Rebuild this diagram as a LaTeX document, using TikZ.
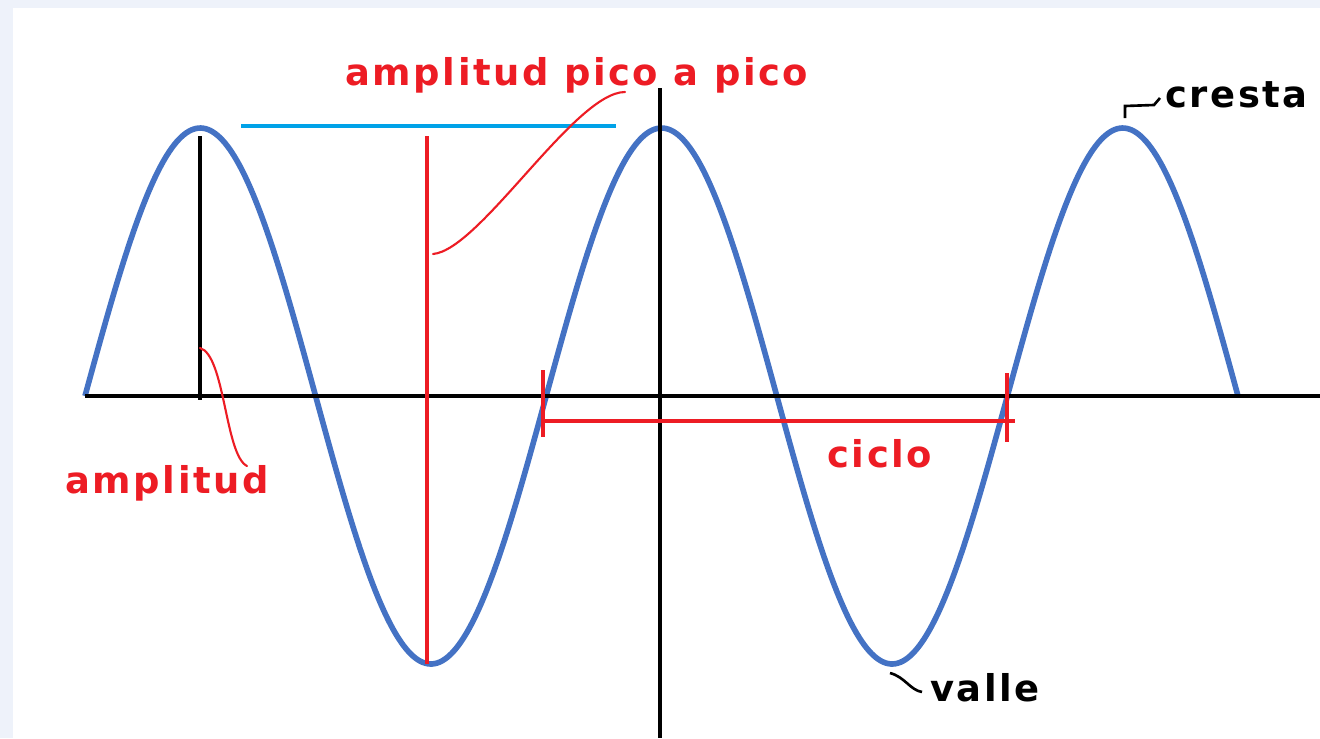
\documentclass[tikz,border=0pt]{standalone}
\usepackage{fontspec}
\newfontfamily\lblfont{DejaVu Sans}[LetterSpace=7]
\definecolor{golfblauw}{HTML}{4472C4}
\definecolor{lijnrood}{HTML}{ED1C24}
\definecolor{lijncyaan}{HTML}{00A2E8}
\definecolor{randkleur}{HTML}{EEF2FA}
\begin{document}
\begin{tikzpicture}[x=0.02cm, y=-0.02cm,
    lbl/.style={font=\lblfont\bfseries\fontsize{21}{25}\selectfont, inner sep=0pt, anchor=base west},
    aanwijzer/.style={line width=1.2pt, line cap=round}]
    % achtergrond met rand
    \fill[randkleur] (0,0) rectangle (1320,738);
    \fill[white] (13,8) rectangle (1320,738);
    \useasboundingbox (0,0) rectangle (1320,738);

    \coordinate (Dal1) at (427,664);
    \coordinate (Top3) at (1125,118);
    \coordinate (Dal2) at (890,673);

    % la onda
    \draw[golfblauw, line width=3.2pt] plot[domain=85:1238, samples=240, smooth]
        (\x, {396-268*sin((\x-85)/461.2*360)});

    % ejes
    \draw[line width=2.1pt] (85,396) -- (1320,396);
    \draw[line width=2.1pt] (660,88) -- (660,738);

    % amplitud y pico a pico
    \draw[line width=2pt] (200,136) -- (200,400);
    \draw[lijncyaan, line width=2pt] (241,126) -- (616,126);
    \draw[lijnrood, line width=2.3pt] (427,136) -- (Dal1);

    % ciclo
    \draw[lijnrood, line width=2.1pt] (543,421) -- (1015,421);
    \draw[lijnrood, line width=2.3pt] (543,370) -- (543,437);
    \draw[lijnrood, line width=2.3pt] (1007,373) -- (1007,442);

    % etiquetas
    \node[lbl, lijnrood] (pico) at (345,85) {amplitud pico a pico};
    \node[lbl, lijnrood] (ampl) at (65,493) {amplitud};
    \node[lbl, lijnrood] (ciclo) at (827,467) {ciclo};
    \node[lbl] (cresta) at (1165,107) {cresta};
    \node[lbl] (valle) at (930,701) {valle};

    % aanwijzers
    \coordinate (picoVan) at (625,92);
    \coordinate (picoNaar) at (433,254);
    \coordinate (amplVan) at (200,348);
    \coordinate (amplNaar) at (247,466);
    \draw[aanwijzer, lijnrood] (picoVan) .. controls (575,92) and (480,250) .. (picoNaar);
    \draw[aanwijzer, lijnrood] (amplVan) .. controls (225,355) and (225,455) .. (amplNaar);
    \draw[line width=1.5pt] (Top3) -- (1125,106) -- (1154,105) -- (1160,98);
    \draw[line width=1.5pt] (Dal2) .. controls (905,677) and (910,690) .. (922,692);
\end{tikzpicture}
\end{document}
